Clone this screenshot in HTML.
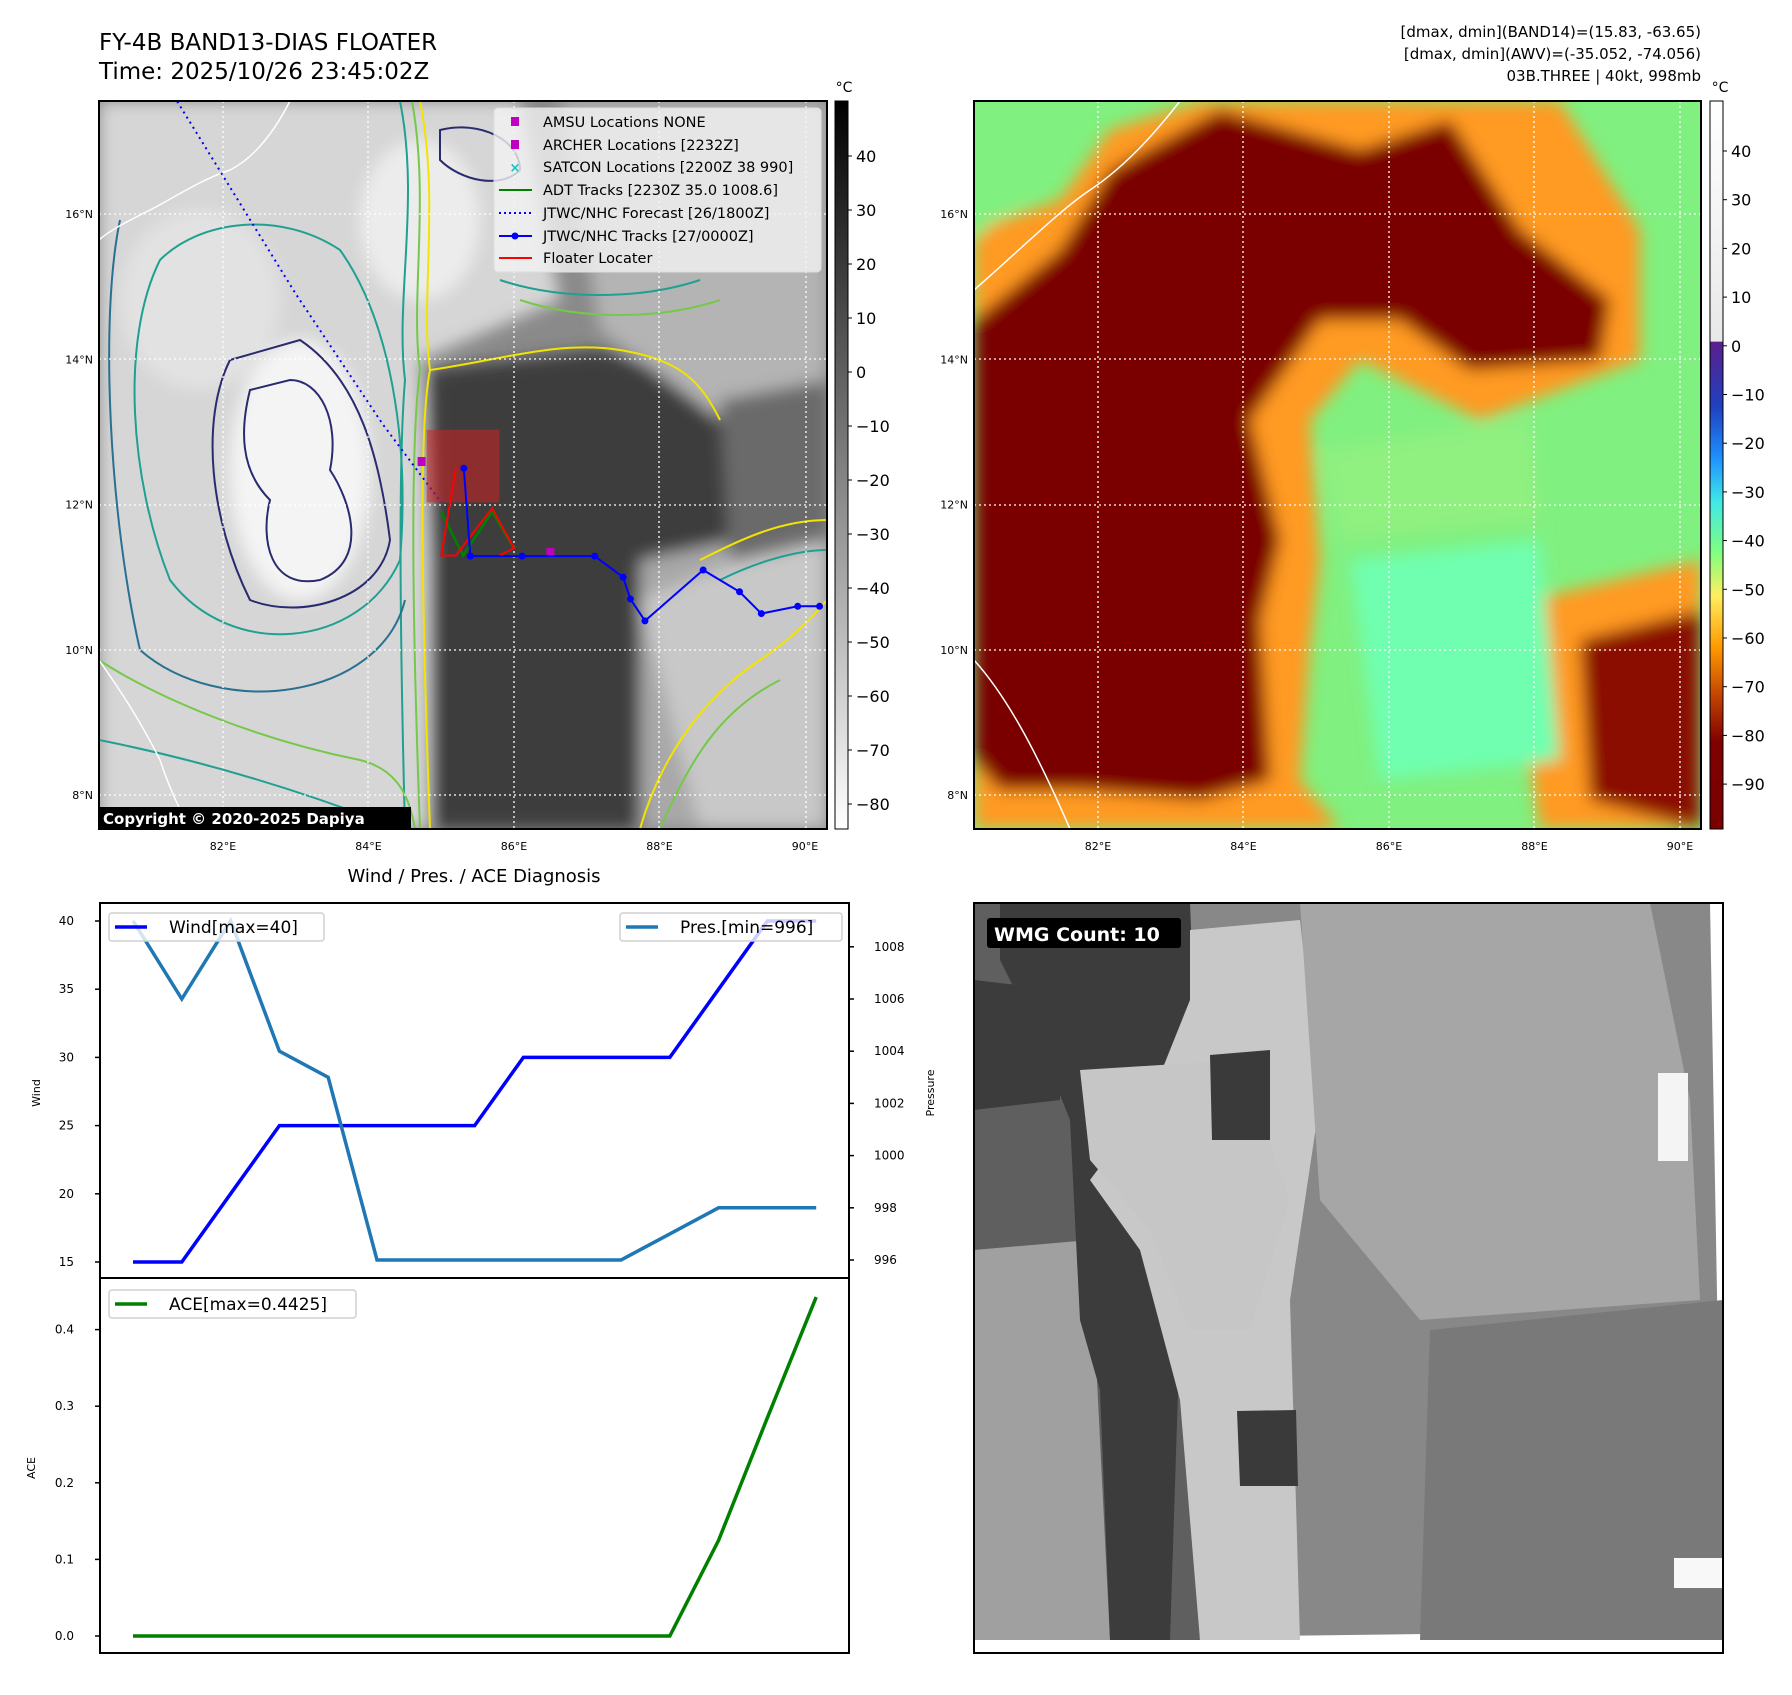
<!DOCTYPE html>
<html><head><meta charset="utf-8">
<style>
html,body{margin:0;padding:0;background:#fff;}
svg text{font-family:"DejaVu Sans","Liberation Sans",sans-serif;}
</style></head>
<body>
<svg id="root" xmlns="http://www.w3.org/2000/svg" width="1792" height="1690" viewBox="0 0 1792 1690">
<defs>
  <filter id="blur8" x="-20%" y="-20%" width="140%" height="140%"><feGaussianBlur stdDeviation="8"/></filter>
  <filter id="blur14" x="-20%" y="-20%" width="140%" height="140%"><feGaussianBlur stdDeviation="14"/></filter>
  <clipPath id="clipL"><rect x="99" y="101" width="728" height="728"/></clipPath>
  <clipPath id="clipR"><rect x="974" y="101" width="727" height="728"/></clipPath>
  <clipPath id="clipW"><rect x="974" y="903" width="749" height="750"/></clipPath>
  <linearGradient id="cbGray" x1="0" y1="0" x2="0" y2="1">
    <stop offset="0" stop-color="#000"/><stop offset="1" stop-color="#fff"/>
  </linearGradient>
  <linearGradient id="cbColor" x1="0" y1="0" x2="0" y2="1">
    <stop offset="0" stop-color="#ffffff"/><stop offset="0.33" stop-color="#e8e8e8"/>
    <stop offset="0.331" stop-color="#5a1f8a"/><stop offset="0.42" stop-color="#2040c0"/>
    <stop offset="0.49" stop-color="#1e90ff"/><stop offset="0.55" stop-color="#40e8e8"/>
    <stop offset="0.62" stop-color="#80ff80"/><stop offset="0.68" stop-color="#ffee60"/>
    <stop offset="0.75" stop-color="#ff9a00"/><stop offset="0.82" stop-color="#c04000"/>
    <stop offset="0.88" stop-color="#800000"/><stop offset="1" stop-color="#7a0000"/>
  </linearGradient>
</defs>

<!-- Titles -->
<text x="99" y="50" font-size="23">FY-4B BAND13-DIAS FLOATER</text>
<text x="99" y="79" font-size="23">Time: 2025/10/26 23:45:02Z</text>
<text x="1701" y="37" font-size="15" text-anchor="end">[dmax, dmin](BAND14)=(15.83, -63.65)</text>
<text x="1701" y="59" font-size="15" text-anchor="end">[dmax, dmin](AWV)=(-35.052, -74.056)</text>
<text x="1701" y="81" font-size="15" text-anchor="end">03B.THREE | 40kt, 998mb</text>

<!-- Left IR map -->
<g clip-path="url(#clipL)">
  <rect x="99" y="101" width="728" height="728" fill="#8a8a8a"/>
  <g filter="url(#blur8)">
    <path d="M99 101 L520 101 L560 300 L420 360 L430 560 L430 829 L99 829 Z" fill="#d6d6d6"/>
    <path d="M430 370 L600 350 L720 390 L730 540 L640 580 L640 829 L430 829 Z" fill="#3e3e3e"/>
    <path d="M640 560 L827 520 L827 829 L640 829 Z" fill="#a8a8a8"/>
    <path d="M560 101 L827 101 L827 430 L720 420 L600 330 Z" fill="#b4b4b4"/>
    <path d="M720 400 L827 380 L827 560 L730 560 Z" fill="#6a6a6a"/>
    <path d="M640 600 L740 560 L827 540 L827 829 L700 829 Z" fill="#c8c8c8"/>
    <ellipse cx="300" cy="470" rx="70" ry="130" fill="#f4f4f4"/>
    <ellipse cx="420" cy="220" rx="60" ry="80" fill="#ececec"/>
    <ellipse cx="200" cy="300" rx="80" ry="90" fill="#e2e2e2"/>
  </g>
  <g fill="none" stroke-width="2">
    <path d="M420 101 C440 200 420 300 430 370 C420 420 420 560 430 829" stroke="#f2e400"/>
    <path d="M412 101 C430 200 410 300 420 370 C412 430 410 560 420 829" stroke="#76c84a"/>
    <path d="M400 101 C420 200 395 300 405 380 C400 440 398 560 405 829" stroke="#20a090"/>
    <path d="M430 370 C500 360 560 340 620 350 C680 360 700 380 720 420" stroke="#f2e400"/>
    <path d="M700 560 C740 540 780 520 827 520" stroke="#f2e400"/>
    <path d="M720 580 C760 560 800 550 827 550" stroke="#20a090"/>
    <path d="M640 829 C660 760 700 700 760 660 C790 640 810 620 827 600" stroke="#f2e400"/>
    <path d="M660 829 C690 760 720 710 780 680" stroke="#76c84a"/>
    <path d="M250 390 C240 430 240 470 270 500 C260 540 270 590 320 580 C370 560 350 500 330 470 C340 420 320 380 290 380 Z" stroke="#2a2a70"/>
    <path d="M230 360 C200 420 210 520 250 600 C300 620 380 600 390 540 C380 460 360 380 300 340 Z" stroke="#2a2a70"/>
    <path d="M160 260 C120 340 130 480 170 580 C230 660 360 650 400 560 C410 440 390 320 340 250 C280 210 200 220 160 260 Z" stroke="#20a090"/>
    <path d="M120 220 C99 320 110 520 140 650 C220 720 380 700 405 600" stroke="#2a7090"/>
    <path d="M99 660 C160 700 260 740 360 760 C400 770 410 800 415 829" stroke="#76c84a"/>
    <path d="M99 740 C200 760 300 790 400 829" stroke="#20a090"/>
    <path d="M440 130 C480 120 520 140 520 170 C500 190 460 180 440 160 Z" stroke="#2a2a70"/>
    <path d="M500 280 C560 300 640 300 700 280" stroke="#20a090"/>
    <path d="M520 300 C580 320 660 320 720 300" stroke="#76c84a"/>
  </g>
  <g stroke="#ffffff" stroke-width="1.5" fill="none">
    <path d="M290 101 C270 140 250 160 230 170 C200 180 170 200 150 210 C130 220 110 230 99 240"/>
    <path d="M99 660 C120 690 140 720 160 760 C170 790 180 810 190 829"/>
  </g>
  <g stroke="#fff" stroke-width="1.3" stroke-dasharray="2,3">
    <line x1="223" y1="101" x2="223" y2="829"/><line x1="368" y1="101" x2="368" y2="829"/>
    <line x1="514" y1="101" x2="514" y2="829"/><line x1="659" y1="101" x2="659" y2="829"/>
    <line x1="806" y1="101" x2="806" y2="829"/>
    <line x1="99" y1="214" x2="827" y2="214"/><line x1="99" y1="359" x2="827" y2="359"/>
    <line x1="99" y1="505" x2="827" y2="505"/><line x1="99" y1="650" x2="827" y2="650"/>
    <line x1="99" y1="795" x2="827" y2="795"/>
  </g>
  <g id="trackLayer"></g>
</g>
<rect x="99" y="101" width="728" height="728" fill="none" stroke="#000" stroke-width="2"/>

<!-- Legend -->
<g>
  <rect x="494" y="108" width="327" height="164" rx="4" fill="#f2f2f2" fill-opacity="0.8" stroke="#ddd"/>
  <rect x="511" y="117" width="8" height="9" fill="#c000c0"/>
  <text x="543" y="127" font-size="14.5">AMSU Locations NONE</text>
  <rect x="511" y="140" width="8" height="9" fill="#c000c0"/>
  <text x="543" y="150" font-size="14.5">ARCHER Locations [2232Z]</text>
  <text x="515" y="172" font-size="13" fill="#10c0c0" text-anchor="middle" font-weight="bold">×</text>
  <text x="543" y="172" font-size="14.5">SATCON Locations [2200Z 38 990]</text>
  <line x1="499" y1="190" x2="532" y2="190" stroke="#008000" stroke-width="2"/>
  <text x="543" y="195" font-size="14.5">ADT Tracks [2230Z 35.0 1008.6]</text>
  <line x1="499" y1="213" x2="532" y2="213" stroke="#0000ff" stroke-width="2" stroke-dasharray="2,3"/>
  <text x="543" y="218" font-size="14.5">JTWC/NHC Forecast [26/1800Z]</text>
  <line x1="499" y1="236" x2="532" y2="236" stroke="#0000ff" stroke-width="2"/>
  <circle cx="515" cy="236" r="3.5" fill="#0000ff"/>
  <text x="543" y="241" font-size="14.5">JTWC/NHC Tracks [27/0000Z]</text>
  <line x1="499" y1="258" x2="532" y2="258" stroke="#ff0000" stroke-width="2"/>
  <text x="543" y="263" font-size="14.5">Floater Locater</text>
</g>
<rect x="99" y="807" width="312" height="22" fill="#000"/>
<text x="103" y="824" font-size="15" font-weight="bold" fill="#fff">Copyright © 2020-2025 Dapiya</text>

<!-- Left colorbar -->
<rect x="835" y="101" width="13" height="728" fill="url(#cbGray)" stroke="#000" stroke-width="1"/>
<text x="844" y="92" font-size="14" text-anchor="middle">°C</text>
<g id="cbLeftTicks"></g>

<!-- Right map -->
<g clip-path="url(#clipR)">
  <rect x="974" y="101" width="727" height="728" fill="#80f080"/>
  <g filter="url(#blur8)">
    <path d="M974 230 L1060 200 L1110 130 L1200 101 L1560 101 L1640 230 L1640 360 L1480 420 L1360 360 L1310 420 L1320 560 L1310 650 L1300 780 L1340 829 L974 829 Z" fill="#ff9a20"/>
    <path d="M974 320 L1060 250 L1110 170 L1220 110 L1360 150 L1450 120 L1520 230 L1610 300 L1600 360 L1470 370 L1400 320 L1320 320 L1250 420 L1280 540 L1260 620 L1270 780 L1200 800 L1080 790 L1000 790 L974 760 Z" fill="#7a0000"/>
    <path d="M1530 600 L1701 560 L1701 829 L1540 829 L1520 700 Z" fill="#ff9a20"/>
    <path d="M1580 640 L1701 610 L1701 829 L1590 800 Z" fill="#8a1000"/>
    <path d="M974 101 L1080 101 L1020 200 L974 240 Z" fill="#80f080"/>
    <path d="M1350 560 L1540 540 L1560 760 L1380 780 Z" fill="#70ffb0"/>
    <path d="M1320 450 L1530 420 L1540 520 L1340 540 Z" fill="#90f080"/>
  </g>
  <g stroke="#fff" stroke-width="1.5" fill="none">
    <path d="M1180 101 C1150 140 1120 170 1090 190 C1060 210 1020 250 974 290"/>
    <path d="M974 660 C1010 700 1040 760 1070 829"/>
  </g>
  <g stroke="#fff" stroke-width="1.3" stroke-dasharray="2,3">
    <line x1="1098" y1="101" x2="1098" y2="829"/><line x1="1243" y1="101" x2="1243" y2="829"/>
    <line x1="1389" y1="101" x2="1389" y2="829"/><line x1="1534" y1="101" x2="1534" y2="829"/>
    <line x1="1680" y1="101" x2="1680" y2="829"/>
    <line x1="974" y1="214" x2="1701" y2="214"/><line x1="974" y1="359" x2="1701" y2="359"/>
    <line x1="974" y1="505" x2="1701" y2="505"/><line x1="974" y1="650" x2="1701" y2="650"/>
    <line x1="974" y1="795" x2="1701" y2="795"/>
  </g>
</g>
<rect x="974" y="101" width="727" height="728" fill="none" stroke="#000" stroke-width="2"/>
<rect x="1710" y="101" width="13" height="728" fill="url(#cbColor)" stroke="#000" stroke-width="1"/>
<text x="1720" y="92" font-size="14" text-anchor="middle">°C</text>
<g id="cbRightTicks"></g>

<g id="mapAxisLabels"></g>

<!-- Diagnosis chart -->
<text x="474" y="882" font-size="18" text-anchor="middle">Wind / Pres. / ACE Diagnosis</text>
<g id="diag"></g>

<!-- WMG panel -->
<g clip-path="url(#clipW)">
  <rect x="974" y="903" width="749" height="750" fill="#fff"/>
  <path d="M974 903 L1710 903 L1723 1630 L974 1640 Z" fill="#888"/>
  <path d="M974 903 L1170 903 L1200 1640 L974 1640 Z" fill="#5f5f5f"/>
  <path d="M974 1250 L1090 1240 L1110 1640 L974 1640 Z" fill="#a0a0a0"/>
  <path d="M1000 903 L1190 903 L1200 1150 L1180 1330 L1170 1640 L1110 1640 L1100 1390 L1080 1320 L1070 1120 L1030 1020 L1000 960 Z" fill="#3c3c3c"/>
  <path d="M974 980 L1060 990 L1060 1100 L974 1110 Z" fill="#3c3c3c"/>
  <path d="M1190 930 L1300 920 L1320 1100 L1290 1300 L1300 1640 L1200 1640 L1180 1400 L1140 1250 L1090 1180 L1150 1100 L1190 1000 Z" fill="#c8c8c8"/>
  <path d="M1080 1070 L1240 1060 L1290 1200 L1250 1330 L1190 1330 L1150 1230 L1090 1160 Z" fill="#c6c6c6"/>
  <path d="M1210 1055 L1270 1050 L1270 1140 L1212 1140 Z" fill="#3a3a3a"/>
  <path d="M1237 1411 L1296 1410 L1298 1486 L1240 1486 Z" fill="#3a3a3a"/>
  <path d="M1300 903 L1650 903 L1690 1100 L1700 1300 L1420 1320 L1320 1200 Z" fill="#a6a6a6"/>
  <path d="M1430 1330 L1723 1300 L1723 1640 L1420 1640 Z" fill="#797979"/>
  <rect x="1658" y="1073" width="30" height="88" fill="#f4f4f4"/>
  <rect x="1674" y="1558" width="49" height="30" fill="#f8f8f8"/>
</g>
<rect x="974" y="903" width="749" height="750" fill="none" stroke="#000" stroke-width="2"/>
<rect x="987" y="918" width="194" height="30" rx="3" fill="#000"/>
<text x="994" y="941" font-size="19" font-weight="bold" fill="#fff">WMG Count: 10</text>

<script>
// ---- chart data ----
var timeIndex = [0,1,2,3,4,5,6,7,8,9,10,11,12,13,14];
var windValues = [15,15,20,25,25,25,25,25,30,30,30,30,35,40,40];
var pressureValues = [1009,1006,1009,1004,1003,996,996,996,996,996,996,997,998,998,998];
var aceValues = [0,0,0,0,0,0,0,0,0,0,0,0,0.125,0.285,0.4425];
var windTicks = [15,20,25,30,35,40];
var pressureTicks = [996,998,1000,1002,1004,1006,1008];
var aceTicks = [0.0,0.1,0.2,0.3,0.4];
// map track data (lon, lat)
var trackLon = [85.31,85.4,86.11,87.11,87.5,87.6,87.8,88.6,89.1,89.4,89.9,90.2];
var trackLat = [12.5,11.29,11.29,11.29,11.0,10.7,10.4,11.1,10.8,10.5,10.6,10.6];
var forecastLon = [81.37,83.0,84.2,85.0];
var forecastLat = [17.55,14.9,13.1,12.03];
var lonTicks = [82,84,86,88,90];
var latTicks = [8,10,12,14,16];
var irTicks = [40,30,20,10,0,-10,-20,-30,-40,-50,-60,-70,-80];
var awvTicks = [40,30,20,10,0,-10,-20,-30,-40,-50,-60,-70,-80,-90];

var NS = 'http://www.w3.org/2000/svg';
function mk(tag, attrs, parent){ var e=document.createElementNS(NS,tag); for(var k in attrs) e.setAttribute(k,attrs[k]); parent.appendChild(e); return e; }

function mapX(lon){ return 223 + (lon-82)*72.75; }
function mapY(lat){ return 214 + (16-lat)*72.65; }
function mapXR(lon){ return 1098 + (lon-82)*72.75; }

var tl = document.getElementById('trackLayer');
var fpts = forecastLon.map(function(l,i){return mapX(l)+','+mapY(forecastLat[i]);}).join(' ');
var fl = mk('polyline',{points:fpts,fill:'none',stroke:'#0000ff','stroke-width':2,'stroke-dasharray':'2,4'},tl);


var fr = mk('rect',{x:mapX(84.8),y:mapY(13.03),width:mapX(85.8)-mapX(84.8),height:mapY(12.03)-mapY(13.03),fill:'#d02020','fill-opacity':0.55},tl);


var adt = mk('polyline',{points:[mapX(85.0)+','+mapY(11.9),mapX(85.3)+','+mapY(11.3),mapX(85.7)+','+mapY(11.9),mapX(86.0)+','+mapY(11.4)].join(' '),fill:'none',stroke:'#008000','stroke-width':2.5},tl);


var red = mk('polyline',{points:[mapX(85.2)+','+mapY(12.5),mapX(85.0)+','+mapY(11.3),mapX(85.2)+','+mapY(11.3),mapX(85.7)+','+mapY(11.95),mapX(86.0)+','+mapY(11.4),mapX(85.8)+','+mapY(11.3)].join(' '),fill:'none',stroke:'#ff0000','stroke-width':2},tl);


var am = mk('rect',{x:mapX(84.73)-4,y:mapY(12.6)-4,width:8,height:9,fill:'#c000c0'},tl);


var am2 = mk('rect',{x:mapX(86.5)-4,y:mapY(11.35)-4,width:8,height:9,fill:'#c000c0'},tl);


var tpts = trackLon.map(function(l,i){return mapX(l)+','+mapY(trackLat[i]);}).join(' ');
var tk = mk('polyline',{points:tpts,fill:'none',stroke:'#0000ff','stroke-width':2},tl);


trackLon.forEach(function(l,i){
  var c = mk('circle',{cx:mapX(l),cy:mapY(trackLat[i]),r:3.5,fill:'#0000ff'},tl);
  
  
});

var mal = document.getElementById('mapAxisLabels');
lonTicks.forEach(function(l){
  [mapX(l), mapXR(l)].forEach(function(x){
    var t = mk('text',{x:x,y:850,'font-size':11,'text-anchor':'middle'},mal);
    t.textContent = l+'°E';
    
    
  });
});
latTicks.forEach(function(l){
  [[93,mapY(l)],[968,mapY(l)]].forEach(function(p){
    var t = mk('text',{x:p[0],y:p[1]+4,'font-size':11,'text-anchor':'end'},mal);
    t.textContent = l+'°N';
    
    
  });
});

var cbl = document.getElementById('cbLeftTicks');
irTicks.forEach(function(v){
  var y = 156 + (40-v)*5.4;
  mk('line',{x1:848,y1:y,x2:852,y2:y,stroke:'#000'},cbl);
  var t = mk('text',{x:856,y:y+6,'font-size':16},cbl);
  t.textContent = v<0 ? '\u2212'+(-v) : String(v);
  
  
});
var cbr = document.getElementById('cbRightTicks');
awvTicks.forEach(function(v){
  var y = 151 + (40-v)*4.87;
  mk('line',{x1:1723,y1:y,x2:1727,y2:y,stroke:'#000'},cbr);
  var t = mk('text',{x:1731,y:y+6,'font-size':16},cbr);
  t.textContent = v<0 ? '\u2212'+(-v) : String(v);
  
  
});

// diagnosis chart
var g = document.getElementById('diag');
function xS(i){ return 133 + i*48.8; }
function yWind(v){ return 1262 - (v-15)*13.64; }
function yPres(v){ return 1260 - (v-996)*26.1; }
function yAce(v){ return 1636 - v*766; }

mk('rect',{x:100,y:903,width:749,height:375,fill:'#fff',stroke:'#000','stroke-width':2},g);
mk('rect',{x:100,y:1278,width:749,height:375,fill:'#fff',stroke:'#000','stroke-width':2},g);

windTicks.forEach(function(v){
  var y=yWind(v); mk('line',{x1:95,y1:y,x2:100,y2:y,stroke:'#000','stroke-width':1.5},g);
  var t=mk('text',{x:74,y:y+4,'font-size':12,'text-anchor':'end'},g); t.textContent=v;
  
  
});
pressureTicks.forEach(function(v){
  var y=yPres(v); mk('line',{x1:849,y1:y,x2:854,y2:y,stroke:'#000','stroke-width':1.5},g);
  var t=mk('text',{x:874,y:y+4,'font-size':12},g); t.textContent=v;
  
  
});
aceTicks.forEach(function(v){
  var y=yAce(v); mk('line',{x1:95,y1:y,x2:100,y2:y,stroke:'#000','stroke-width':1.5},g);
  var t=mk('text',{x:74,y:y+4,'font-size':12,'text-anchor':'end'},g); t.textContent=v.toFixed(1);
  
  
});
var wl=mk('text',{x:0,y:0,'font-size':11,'text-anchor':'middle',transform:'translate(40,1093) rotate(-90)'},g); wl.textContent='Wind';


var pl=mk('text',{x:0,y:0,'font-size':11,'text-anchor':'middle',transform:'translate(934,1093) rotate(-90)'},g); pl.textContent='Pressure';


var al=mk('text',{x:0,y:0,'font-size':11,'text-anchor':'middle',transform:'translate(35,1468) rotate(-90)'},g); al.textContent='ACE';



var wLine=mk('polyline',{points:timeIndex.map(function(i){return xS(i)+','+yWind(windValues[i]);}).join(' '),fill:'none',stroke:'#0000ff','stroke-width':3.5},g);


var pLine=mk('polyline',{points:timeIndex.map(function(i){return xS(i)+','+yPres(pressureValues[i]);}).join(' '),fill:'none',stroke:'#1f77b4','stroke-width':3.5},g);


var aLine=mk('polyline',{points:timeIndex.map(function(i){return xS(i)+','+yAce(aceValues[i]);}).join(' '),fill:'none',stroke:'#008000','stroke-width':3.5},g);



function legend(x,y,w,color,label,name){
  var lg=mk('g',{},g);
  
  
  mk('rect',{x:x,y:y,width:w,height:28,rx:3,fill:'#fff','fill-opacity':0.8,stroke:'#d0d0d0','stroke-width':1.5},lg);
  mk('line',{x1:x+6,y1:y+14,x2:x+38,y2:y+14,stroke:color,'stroke-width':3.5},lg);
  var t=mk('text',{x:x+60,y:y+20,'font-size':17},lg); t.textContent=label;
}
legend(109,913,215,'#0000ff','Wind[max=40]','wind-legend');
legend(620,913,222,'#1f77b4','Pres.[min=996]','pressure-legend');
legend(109,1290,247,'#008000','ACE[max=0.4425]','ace-legend');
</script>
</svg>
</body></html>
